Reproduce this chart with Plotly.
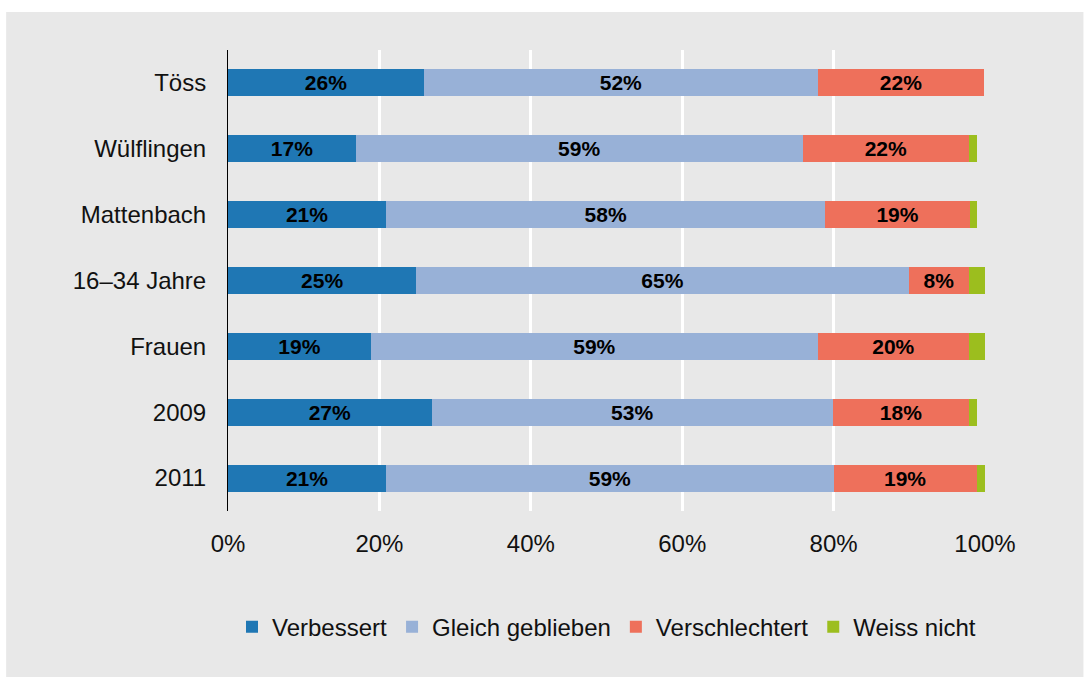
import plotly.graph_objects as go

categories = ["Töss", "Wülflingen", "Mattenbach", "16–34 Jahre", "Frauen", "2009", "2011"]
verbessert = [25.9, 16.9, 20.9, 24.9, 18.9, 26.9, 20.9]
gleich = [52.0, 59.0, 58.0, 65.0, 59.0, 53.0, 59.1]
verschlechtert = [22.0, 22.0, 19.1, 8.0, 20.0, 18.0, 18.9]
weiss_nicht = [0.0, 1.1, 1.0, 2.1, 2.1, 1.1, 1.4]

series_names = ["Verbessert", "Gleich geblieben", "Verschlechtert", "Weiss nicht"]
series_values = [verbessert, gleich, verschlechtert, weiss_nicht]
series_colors = ["#1F77B4", "#98B1D7", "#EE705B", "#9CBE1E"]
show_labels = [True, True, True, False]

tick_vals = [0, 20, 40, 60, 80, 100]
tick_text = ["0%", "20%", "40%", "60%", "80%", "100%"]

FONT = "Liberation Sans, Arial, sans-serif"

fig = go.Figure()
for name, vals, col, lab in zip(series_names, series_values, series_colors, show_labels):
    fig.add_trace(go.Bar(
        y=categories, x=vals, name=name, orientation="h",
        marker=dict(color=col, line=dict(width=0)),
        texttemplate="%{x:.0f}%" if lab else None,
        textposition="inside" if lab else "none",
        insidetextanchor="middle",
        constraintext="none",
        textangle=0,
        textfont=dict(family=FONT, size=21, color="black", weight="bold"),
        hoverinfo="x+name",
    ))

W, H = 1084, 677
L, R, T, B = 228, 98.5, 50, 166
pw = W - L - R
ph = H - T - B

# grey panel behind everything (paper coordinates relative to plot area)
x0 = (6 - L) / pw
x1 = (W - L) / pw
y1 = (H - B - 12) / ph
y0 = (H - B - H) / ph

fig.update_layout(
    width=W, height=H,
    margin=dict(l=L, r=R, t=T, b=B, autoexpand=False),
    barmode="stack",
    bargap=0.59,
    paper_bgcolor="white",
    plot_bgcolor="rgba(0,0,0,0)",
    font=dict(family=FONT, size=24, color="#111111"),
    showlegend=True,
    legend=dict(
        orientation="h", x=0.5, xanchor="center", y=-0.252, yanchor="middle",
        font=dict(family=FONT, size=24, color="#111111"),
        bgcolor="rgba(0,0,0,0)", traceorder="normal",
    ),
    shapes=[dict(
        type="rect", xref="paper", yref="paper",
        x0=x0, x1=x1, y0=y0, y1=y1,
        fillcolor="#E8E8E8", line=dict(width=0), layer="below",
    )],
)

fig.update_xaxes(
    range=[0, 100], tickvals=tick_vals, ticktext=tick_text,
    showgrid=True, gridcolor="white", gridwidth=2.5,
    zeroline=False, showline=False, ticks="",
    ticklabelstandoff=16,
    tickfont=dict(family=FONT, size=24, color="#111111"),
    fixedrange=True,
)
fig.update_yaxes(
    autorange="reversed",
    showgrid=False, zeroline=False,
    showline=True, linecolor="black", linewidth=1,
    ticks="", ticklabelstandoff=16,
    tickfont=dict(family=FONT, size=24, color="#111111"),
    fixedrange=True,
)

fig.write_html(
    "out.html",
    config={"displayModeBar": False},
    post_script="document.body.style.margin='0';document.body.style.padding='0';",
)
